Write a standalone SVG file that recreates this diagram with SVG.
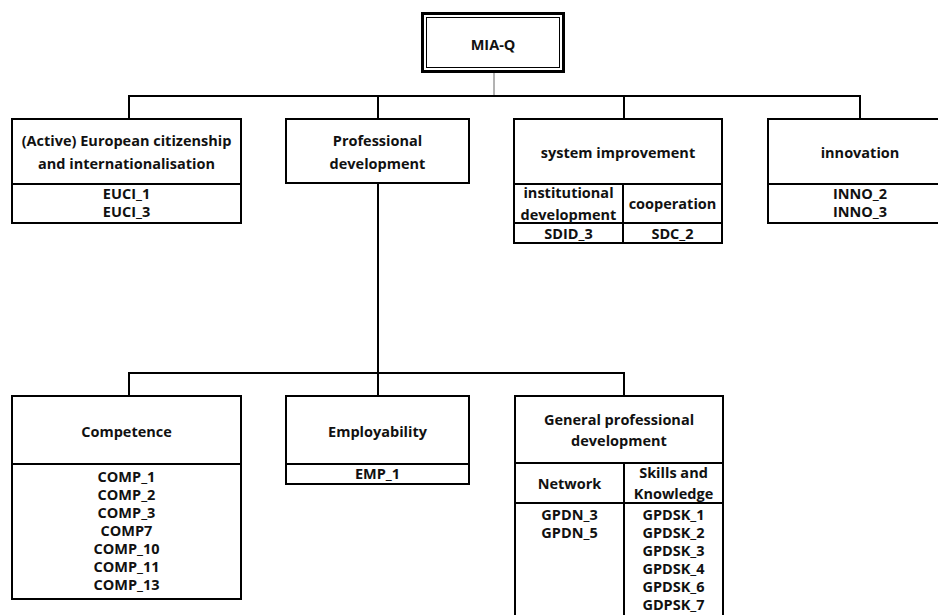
<svg xmlns="http://www.w3.org/2000/svg" width="938" height="615" viewBox="0 0 938 615">
<style>
  .box { fill: #fff; stroke: #000; stroke-width: 2; }
  .ln { fill: none; stroke: #000; stroke-width: 2; }
  .thin { fill: none; stroke: #666; stroke-width: 1; }
  text { font-family: "Open Sans", "Liberation Sans", sans-serif; font-weight: bold; font-size: 14.5px; fill: #111; text-anchor: middle; }
</style>
<rect x="0" y="0" width="938" height="615" fill="#fff"/>
<g id="connectors">
  <line class="thin" x1="494" y1="73" x2="494" y2="96"/>
  <polyline class="ln" points="129,119 129,96 860,96 860,119"/>
  <line class="ln" x1="378" y1="96" x2="378" y2="119"/>
  <line class="ln" x1="624" y1="96" x2="624" y2="119"/>
  <line class="ln" x1="378" y1="183" x2="378" y2="373"/>
  <polyline class="ln" points="129,396 129,373 624,373 624,396"/>
  <line class="ln" x1="378" y1="373" x2="378" y2="396"/>
</g>
<g id="mia-q">
  <rect x="422.5" y="13.5" width="141" height="58" fill="#fff" stroke="#000" stroke-width="3"/>
  <rect x="426.5" y="17.5" width="133" height="50" fill="none" stroke="#000" stroke-width="1"/>
  <text x="493" y="50">MIA-Q</text>
</g>
<g id="euci">
  <rect class="box" x="12" y="119" width="229" height="104"/>
  <line class="ln" x1="12" y1="184" x2="241" y2="184"/>
  <text x="126.5" y="146">(Active) European citizenship</text>
  <text x="126.5" y="169">and internationalisation</text>
  <text x="126.5" y="199">EUCI_1</text>
  <text x="126.5" y="217">EUCI_3</text>
</g>
<g id="profdev">
  <rect class="box" x="286" y="119" width="183" height="64"/>
  <text x="377.5" y="146">Professional</text>
  <text x="377.5" y="169">development</text>
</g>
<g id="sysimp">
  <rect class="box" x="514" y="119" width="208" height="124"/>
  <line class="ln" x1="514" y1="184" x2="722" y2="184"/>
  <line class="ln" x1="514" y1="223" x2="722" y2="223"/>
  <line class="ln" x1="623" y1="184" x2="623" y2="243"/>
  <text x="618" y="158">system improvement</text>
  <text x="568.5" y="198">institutional</text>
  <text x="568.5" y="220">development</text>
  <text x="672.5" y="209">cooperation</text>
  <text x="568.5" y="239">SDID_3</text>
  <text x="672.5" y="239">SDC_2</text>
</g>
<g id="innovation">
  <rect class="box" x="768" y="119" width="184" height="104"/>
  <line class="ln" x1="768" y1="184" x2="952" y2="184"/>
  <text x="860" y="158">innovation</text>
  <text x="860" y="199">INNO_2</text>
  <text x="860" y="217">INNO_3</text>
</g>
<g id="competence">
  <rect class="box" x="12" y="396" width="229" height="203"/>
  <line class="ln" x1="12" y1="464" x2="241" y2="464"/>
  <text x="126.5" y="437">Competence</text>
  <text x="126.5" y="482">COMP_1</text>
  <text x="126.5" y="500">COMP_2</text>
  <text x="126.5" y="518">COMP_3</text>
  <text x="126.5" y="536">COMP7</text>
  <text x="126.5" y="554">COMP_10</text>
  <text x="126.5" y="572">COMP_11</text>
  <text x="126.5" y="590">COMP_13</text>
</g>
<g id="employability">
  <rect class="box" x="286" y="396" width="183" height="88"/>
  <line class="ln" x1="286" y1="464" x2="469" y2="464"/>
  <text x="377.5" y="437">Employability</text>
  <text x="377.5" y="479">EMP_1</text>
</g>
<g id="gpd">
  <rect class="box" x="515" y="396" width="208" height="240"/>
  <line class="ln" x1="515" y1="463" x2="723" y2="463"/>
  <line class="ln" x1="515" y1="503" x2="723" y2="503"/>
  <line class="ln" x1="624" y1="463" x2="624" y2="636"/>
  <text x="619" y="425">General professional</text>
  <text x="619" y="446">development</text>
  <text x="569.5" y="489">Network</text>
  <text x="673.5" y="478">Skills and</text>
  <text x="673.5" y="499">Knowledge</text>
  <text x="569.5" y="520">GPDN_3</text>
  <text x="569.5" y="538">GPDN_5</text>
  <text x="673.5" y="520">GPDSK_1</text>
  <text x="673.5" y="538">GPDSK_2</text>
  <text x="673.5" y="556">GPDSK_3</text>
  <text x="673.5" y="574">GPDSK_4</text>
  <text x="673.5" y="592">GPDSK_6</text>
  <text x="673.5" y="610">GDPSK_7</text>
</g>
</svg>
